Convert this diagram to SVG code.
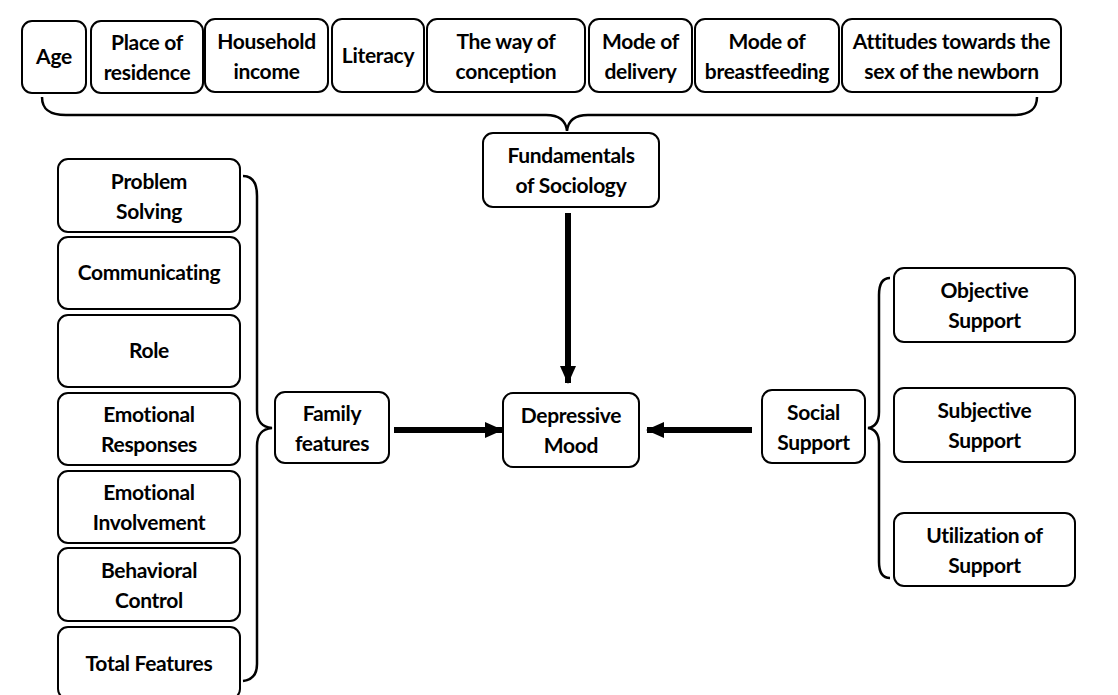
<svg xmlns="http://www.w3.org/2000/svg" width="1118" height="695" viewBox="0 0 1118 695">
<style>
.b{fill:#fff;stroke:#000;stroke-width:2}
text{font-family:Lato,"Noto Sans",sans-serif;font-weight:700;font-size:21px;letter-spacing:-0.3px;fill:#000;text-anchor:middle}
.br{fill:none;stroke:#000;stroke-width:2.5}
.ar{stroke:#000;stroke-width:6;fill:none}
</style>
<defs>
<marker id="ah" markerUnits="userSpaceOnUse" markerWidth="18" markerHeight="18" viewBox="0 0 18 18" refX="17" refY="9" orient="auto">
<path d="M0 1 L18 9 L0 17 Z" fill="#000"/>
</marker>
</defs>
<g id="n-age"><rect class="b" x="22" y="21" width="64" height="72" rx="10"/><text x="54" y="64">Age</text></g>
<g id="n-residence"><rect class="b" x="91" y="21" width="112" height="72" rx="10"/><text x="147" y="50">Place of</text><text x="147" y="80">residence</text></g>
<g id="n-income"><rect class="b" x="205" y="19" width="123" height="73" rx="10"/><text x="266.5" y="49">Household</text><text x="266.5" y="79">income</text></g>
<g id="n-literacy"><rect class="b" x="332" y="19" width="92" height="73" rx="10"/><text x="378" y="63">Literacy</text></g>
<g id="n-conception"><rect class="b" x="427" y="19" width="158" height="73" rx="10"/><text x="506" y="49">The way of</text><text x="506" y="79">conception</text></g>
<g id="n-delivery"><rect class="b" x="589" y="19" width="103" height="73" rx="10"/><text x="640.5" y="49">Mode of</text><text x="640.5" y="79">delivery</text></g>
<g id="n-breastfeeding"><rect class="b" x="695" y="19" width="144" height="73" rx="10"/><text x="767" y="49">Mode of</text><text x="767" y="79">breastfeeding</text></g>
<g id="n-attitudes"><rect class="b" x="842" y="19" width="219" height="73" rx="10"/><text x="951.5" y="49">Attitudes towards the</text><text x="951.5" y="79">sex of the newborn</text></g>

<g id="n-fundamentals"><rect class="b" x="483" y="133" width="176" height="74" rx="10"/><text x="571" y="163">Fundamentals</text><text x="571" y="193">of Sociology</text></g>
<g id="n-depressive"><rect class="b" x="503" y="393" width="136" height="74" rx="10"/><text x="571" y="423">Depressive</text><text x="571" y="453">Mood</text></g>
<g id="n-family"><rect class="b" x="275" y="392" width="114" height="71" rx="10"/><text x="332" y="421">Family</text><text x="332" y="451">features</text></g>
<g id="n-social"><rect class="b" x="762" y="390" width="103" height="73" rx="10"/><text x="813.5" y="420">Social</text><text x="813.5" y="450">Support</text></g>

<g id="n-problem"><rect class="b" x="58" y="159" width="182" height="73" rx="10"/><text x="149" y="189">Problem</text><text x="149" y="219">Solving</text></g>
<g id="n-communicating"><rect class="b" x="58" y="237" width="182" height="72" rx="10"/><text x="149" y="280">Communicating</text></g>
<g id="n-role"><rect class="b" x="58" y="315" width="182" height="72" rx="10"/><text x="149" y="358">Role</text></g>
<g id="n-responses"><rect class="b" x="58" y="393" width="182" height="72" rx="10"/><text x="149" y="422">Emotional</text><text x="149" y="452">Responses</text></g>
<g id="n-involvement"><rect class="b" x="58" y="471" width="182" height="72" rx="10"/><text x="149" y="500">Emotional</text><text x="149" y="530">Involvement</text></g>
<g id="n-behavioral"><rect class="b" x="58" y="548" width="182" height="73" rx="10"/><text x="149" y="578">Behavioral</text><text x="149" y="608">Control</text></g>
<g id="n-total"><rect class="b" x="58" y="627" width="182" height="72" rx="10"/><text x="149" y="671">Total Features</text></g>

<g id="n-objective"><rect class="b" x="894" y="268" width="181" height="74" rx="10"/><text x="984.5" y="298">Objective</text><text x="984.5" y="328">Support</text></g>
<g id="n-subjective"><rect class="b" x="894" y="388" width="181" height="74" rx="10"/><text x="984.5" y="418">Subjective</text><text x="984.5" y="448">Support</text></g>
<g id="n-utilization"><rect class="b" x="894" y="513" width="181" height="73" rx="10"/><text x="984.5" y="543">Utilization of</text><text x="984.5" y="573">Support</text></g>

<g id="connectors">
<path class="br" d="M42 97 C42 110 50 115 66 115 L546 115 C560 115 566 121 567 131 C568 121 574 115 588 115 L1013 115 C1029 115 1037 110 1037 97"/>
<path class="br" d="M243 176 C252 176 257 182 257 196 L257 410 C257 422 262 427 272 428 C262 429 257 434 257 446 L257 664 C257 675 252 680 243 681"/>
<path class="br" d="M890 278 C883 278 879 284 879 295 L879 412 C879 422 875 427 868 428 C875 429 879 434 879 444 L879 562 C879 573 883 578 890 578"/>
<line class="ar" x1="568" y1="213" x2="568" y2="383" marker-end="url(#ah)"/>
<line class="ar" x1="394" y1="430" x2="502" y2="430" marker-end="url(#ah)"/>
<line class="ar" x1="752" y1="430" x2="647" y2="430" marker-end="url(#ah)"/>
</g>
</svg>
